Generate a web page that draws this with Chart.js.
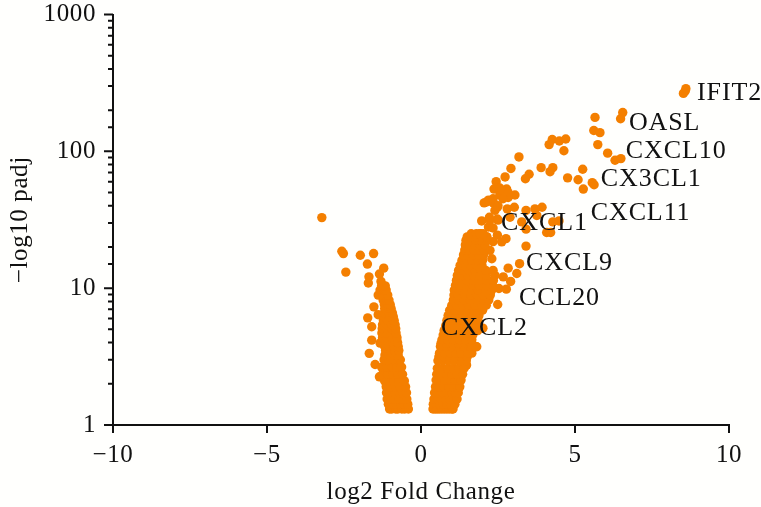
<!DOCTYPE html>
<html><head><meta charset="utf-8">
<style>html,body{margin:0;padding:0;background:#fffffd}canvas{display:block}</style>
<script src="https://cdn.jsdelivr.net/npm/chart.js@4"></script></head>
<body><canvas id="c" width="761" height="507"></canvas>
<script>
const sparseFC = [8.52,8.58,8.6,6.55,6.48,5.65,5.61,5.81,5.74,6.06,6.3,6.49,4.26,4.16,4.49,4.7,4.64,3.18,2.92,2.73,3.51,3.39,3.9,4.28,4.19,4.76,5.1,5.25,5.27,5.56,5.62,2.44,2.37,3.05,2.56,2.78,2.83,2.56,2.19,2.05,2.35,2.48,2.8,3.03,3.41,3.7,3.93,3.76,2.89,1.97,2.22,2.19,2.48,3.27,3.41,4.28,4.48,4.08,4.21,2.76,2.48,2.62,3.41,3.2,2.83,3.11,2.91,2.53,2.77,2.49,2.4,2.67,2.01,1.81,1.65,1.48,2.24,-3.22,-2.57,-2.52,-1.97,-1.54,-1.74,-2.44,-1.21,-1.35,-1.69,-1.71,-1.53,-1.73,-1.6,-1.6,-1.68,-1.49,-1.35,2.62,2.83,2.13,2.34,2.66,2.5,2.4,2.24,2.5,2.34,1.92,2.13,2.34,2.24,2.3,2.34,-1.39,-1.33,-1.23,-1.39,-1.33];
const sparsePadj = [265,276,287,192,173,177,142,137,112,97,86,88.5,122,112,119,123,101,91,75,65,68,63,76,76,71,64,62,74,53,59,57,60,53,48,54,53,46,48,44,42,42,39,38,39,37,38,39,34,33,31,33,28,32,30.5,27,30.5,31,25.5,25.5,23,24.4,21.8,20.3,15.1,14,12.8,11.2,9.95,9.84,7.6,12.4,12.1,5.1,3.73,3.35,2.74,9.2,32.8,18.6,17.9,17.4,17.9,15,13.1,14,12.7,12.1,10.9,7.3,6.07,5.22,4.17,3.34,2.77,2.25,52,50,42.7,45,45,40,37,31.4,31.4,27.5,25,23.7,21.9,18.9,16.4,13.5,6.4,3.97,8.18,8.9,9.7];
const rightLevels = [1.31,1.42,1.55,1.72,1.9,2.13,2.35,2.6,2.95,3.15,3.35,3.75,3.95,4.2,4.55,4.9,5.3,5.8,6.3,6.9,7.5,8.2,8.9,9.7,10.5,11.4,12.4,13.5,14.7,16,17.5,19,20.7,22.4,23.7,25];
const rightRows = [
[.39,.46,.53,.6,.68,.76,.84,.92,1.0,1.04],
[.4,.5,.6,.72,.84,.96,1.1],
[.42,.54,.66,.8,.93,1.06,1.17],
[.44,.56,.7,.85,1,1.12,1.21],
[.47,.6,.75,.9,1.05,1.18,1.26],
[.49,.63,.78,.95,1.1,1.3],
[.51,.66,.82,1,1.17,1.35],
[.53,.7,.88,1.05,1.22,1.4],
[.55,.72,.9,1.08,1.28,1.47],
[.58,.75,.92,1.1,1.3,1.5],
[.6,.77,.95,1.13,1.3,1.52],
[.63,.8,1.0,1.2,1.4,1.6,1.78],
[.65,.83,1.02,1.22,1.42,1.62],
[.68,.86,1.04,1.25,1.45,1.65],
[.72,.9,1.08,1.28,1.48,1.68],
[.75,.92,1.1,1.3,1.5,1.7,1.84],
[.8,.97,1.15,1.35,1.55,1.78],
[.84,1.02,1.2,1.4,1.6,1.85],
[.88,1.06,1.25,1.45,1.65,1.88],
[.93,1.1,1.3,1.48,1.7,1.9,2.0],
[1.0,1.16,1.35,1.55,1.75,1.97,2.12],
[1.05,1.22,1.4,1.6,1.8,2.05,2.2],
[1.07,1.2,1.42,1.62,1.83,2.02,2.25],
[1.08,1.24,1.44,1.65,1.85,2.1,2.3],
[1.12,1.27,1.47,1.68,1.88,2.12,2.32],
[1.15,1.3,1.5,1.7,1.9,2.15,2.35],
[1.18,1.35,1.52,1.72,1.92,2.12],
[1.22,1.4,1.55,1.75,1.95,2.1],
[1.27,1.44,1.6,1.8,1.98],
[1.33,1.48,1.65,1.85,2.0],
[1.38,1.52,1.68,1.88,2.03],
[1.42,1.55,1.72,1.9,2.05],
[1.44,1.58,1.75,1.92,2.08],
[1.46,1.6,1.78,1.95,2.12],
[1.5,1.62,1.8,1.98,2.14],
[1.63,1.8,1.92,2.02]];
const leftLevels = [1.31,1.42,1.55,1.72,1.9,2.1,2.35,2.65,3.0,3.25,3.5,3.75,4.0,4.35,4.7,5.05,5.4,5.8,6.2,6.6,7.1,7.6,8.2,8.9,9.7,10.4,11.2];
const leftRows = [
[-1.02,-.95,-.82,-.75,-.62,-.53,-.41],
[-1.06,-.93,-.8,-.66,-.55,-.43],
[-1.1,-.98,-.86,-.72,-.6,-.46],
[-1.12,-1,-.85,-.7,-.58,-.47],
[-1.13,-.99,-.83,-.68,-.5],
[-1.18,-1.03,-.88,-.72,-.54],
[-1.25,-1.08,-.92,-.75,-.6],
[-1.28,-1.1,-.93,-.78,-.63],
[-1.2,-1.05,-.9,-.77,-.67],
[-1.17,-1.02,-.87,-.74],
[-1.15,-1,-.85,-.72],
[-1.18,-1.03,-.88,-.74],
[-1.22,-1.06,-.92,-.76],
[-1.25,-1.1,-.94,-.78],
[-1.27,-1.12,-.96,-.81],
[-1.26,-1.11,-.95,-.82],
[-1.25,-1.1,-.95,-.84],
[-1.22,-1.08,-.92,-.87],
[-1.2,-1.06,-.9],
[-1.19,-1.05,-.93],
[-1.18,-1.04,-.97],
[-1.19,-1.08,-1.0],
[-1.2,-1.1,-1.04],
[-1.24,-1.15,-1.08],
[-1.28,-1.2,-1.13],
[-1.28,-1.22,-1.16],
[-1.3]];
const geneNames = ["IFIT2","OASL","CXCL10","CX3CL1","CXCL11","CXCL1","CXCL9","CCL20","CXCL2"];
const geneFC = [8.96,6.75,6.65,5.84,5.51,2.6,3.41,3.18,0.65];
const genePadj = [266,160,100,62.5,35.3,29.8,15.2,8.5,5.1];
const xTickValues = [-10,-5,0,5,10];
const yTickLabels = [1,10,100,1000];

const points = sparseFC.map((x,i)=>({x,y:sparsePadj[i]}));
rightRows.forEach((r,i)=>r.forEach(x=>points.push({x,y:rightLevels[i]})));
leftRows.forEach((r,i)=>r.forEach(x=>points.push({x,y:leftLevels[i]})));

const serif = '"Liberation Serif"';
const ink = '#111111';
const marks = {
  id:'marks',
  beforeDraw(ch){ch.ctx.letterSpacing='0.6px';},
  afterDraw(ch){
    const c=ch.ctx,xs=ch.scales.x,ys=ch.scales.y;
    c.save();c.strokeStyle=ink;c.lineWidth=2;c.beginPath();
    xs.ticks.forEach(t=>{const p=xs.getPixelForValue(t.value);c.moveTo(p,ch.chartArea.bottom);c.lineTo(p,ch.chartArea.bottom+8);});
    ys.ticks.forEach(t=>{const p=ys.getPixelForValue(t.value);const major=yTickLabels.includes(t.value);c.moveTo(ch.chartArea.left,p);c.lineTo(ch.chartArea.left-(major?9:5),p);});
    c.stroke();
    c.fillStyle=ink;c.font='26px '+serif;c.textAlign='left';c.textBaseline='middle';c.letterSpacing='0.9px';
    geneNames.forEach((n,i)=>c.fillText(n,xs.getPixelForValue(geneFC[i]),ys.getPixelForValue(genePadj[i])));
    c.restore();
  }
};
new Chart(document.getElementById('c'),{
  type:'scatter',
  data:{datasets:[{data:points,backgroundColor:'#f47f00',borderWidth:0,pointRadius:4.7,pointHoverRadius:4.7}]},
  plugins:[marks,{id:'bg',beforeDraw(ch){ch.ctx.fillStyle='#fffffd';ch.ctx.fillRect(0,0,761,507);}}],
  options:{
    responsive:false,animation:false,
    layout:{padding:{top:14.5,right:32,left:0,bottom:0}},
    plugins:{legend:{display:false},tooltip:{enabled:false}},
    scales:{
      x:{type:'linear',min:-10,max:10,
        afterFit(s){s.height=82;s.paddingLeft=0;s.paddingRight=0;},
        afterBuildTicks(s){s.ticks=xTickValues.map(value=>({value}));},
        border:{color:ink,width:2},
        grid:{display:true,drawOnChartArea:false,drawTicks:false},
        ticks:{color:ink,padding:15,maxRotation:0,font:{family:serif,size:25},callback:v=>String(v).replace('-','\u2212')},
        title:{display:true,text:'log2 Fold Change',color:ink,font:{family:serif,size:25},padding:{top:9,bottom:0}}},
      y:{type:'logarithmic',min:1,max:1000,
        afterFit(s){s.width=113;s.paddingTop=0;s.paddingBottom=0;},
        border:{color:ink,width:2},
        grid:{display:true,drawOnChartArea:false,drawTicks:false},
        ticks:{color:ink,padding:17,autoSkip:false,font:{family:serif,size:25},callback:v=>yTickLabels.includes(v)?String(v):''},
        title:{display:true,text:'\u2212log10 padj',color:ink,font:{family:serif,size:25},padding:{top:5,bottom:0}}}
    }
  }
});
</script></body></html>
